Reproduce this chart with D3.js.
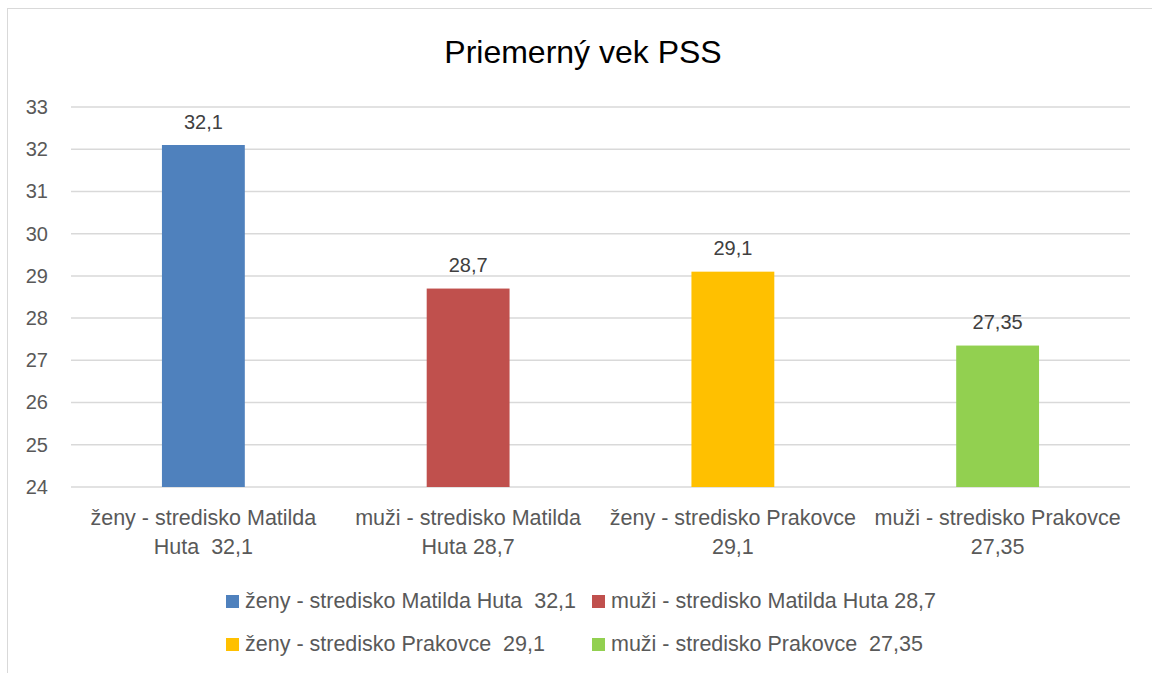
<!DOCTYPE html>
<html>
<head>
<meta charset="utf-8">
<script src="https://cdn.jsdelivr.net/npm/d3@7"></script>
<style>
  body { margin: 0; background: #fff; }
  text { font-family: "Liberation Sans", Arial, sans-serif; white-space: pre; }
</style>
</head>
<body>
<div id="chart"></div>
<script>
// data
var categories = ["ženy - stredisko Matilda Huta  32,1", "muži - stredisko Matilda Huta 28,7",
                  "ženy - stredisko Prakovce  29,1", "muži - stredisko Prakovce  27,35"]
var axisLines = [["ženy - stredisko Matilda", "Huta  32,1"], ["muži - stredisko Matilda", "Huta 28,7"],
                 ["ženy - stredisko Prakovce", "29,1"], ["muži - stredisko Prakovce", "27,35"]]
var values = [32.1, 28.7, 29.1, 27.35]
var valueLabels = ["32,1", "28,7", "29,1", "27,35"]
var colors = ["#4F81BD", "#C0504D", "#FFC000", "#92D050"]
var yTicks = [24, 25, 26, 27, 28, 29, 30, 31, 32, 33]

var W = 1152, H = 673
var margin = {top: 107, left: 71, right: 22, bottom: 186}
var width = W - margin.left - margin.right,
    height = H - margin.top - margin.bottom

var svg = d3.select("#chart").append("svg")
    .attr("width", W).attr("height", H)

// chart area border
svg.append("rect")
    .attr("x", 7.5).attr("y", 8.5)
    .attr("width", W + 10).attr("height", H + 10)
    .attr("fill", "none").attr("stroke", "#d9d9d9").attr("stroke-width", 1)

svg.append("text")
    .attr("x", 583).attr("y", 63)
    .attr("text-anchor", "middle")
    .attr("font-size", "32px")
    .attr("fill", "#000")
    .text("Priemerný vek PSS")

var g = svg.append("g")
    .attr("transform", "translate(" + margin.left + "," + margin.top + ")")

var x = d3.scaleBand().domain(categories).range([0, width]).padding(0)
var y = d3.scaleLinear().domain([24, 33]).range([height, 0])
var barW = x.bandwidth() * 0.313

// gridlines
g.selectAll(".grid")
    .data(yTicks)
  .enter().append("line")
    .attr("x1", 0).attr("x2", width)
    .attr("y1", d => y(d)).attr("y2", d => y(d))
    .attr("stroke", "#d9d9d9").attr("stroke-width", 1.5)

// y axis labels
var yAxis = g.append("g")
    .call(d3.axisLeft(y).tickValues(yTicks).tickSize(0).tickPadding(23))
yAxis.select(".domain").remove()
yAxis.selectAll("text")
    .attr("font-family", "'Liberation Sans', Arial, sans-serif")
    .attr("font-size", "20px")
    .attr("fill", "#595959")

// bars
g.selectAll(".bar")
    .data(values)
  .enter().append("rect")
    .attr("x", (d, i) => x(categories[i]) + x.bandwidth() / 2 - barW / 2)
    .attr("width", barW)
    .attr("y", d => y(d))
    .attr("height", d => height - y(d))
    .attr("fill", (d, i) => colors[i])

// value labels
g.selectAll(".val")
    .data(values)
  .enter().append("text")
    .attr("x", (d, i) => x(categories[i]) + x.bandwidth() / 2)
    .attr("y", d => y(d) - 16.5)
    .attr("text-anchor", "middle")
    .attr("font-size", "20px")
    .attr("fill", "#404040")
    .text((d, i) => valueLabels[i])

// x axis labels (two lines)
var xl = g.selectAll(".xl")
    .data(categories)
  .enter().append("text")
    .attr("x", d => x(d) + x.bandwidth() / 2)
    .attr("y", height + 38)
    .attr("text-anchor", "middle")
    .attr("font-size", "21.5px")
    .attr("fill", "#595959")
xl.selectAll("tspan")
    .data((d, i) => axisLines[i])
  .enter().append("tspan")
    .attr("x", function() { return this.parentNode.getAttribute("x") })
    .attr("dy", (d, j) => j ? 29 : 0)
    .text(d => d)

// legend
var legX = [226, 592], legY = [608, 651]
var leg = svg.selectAll(".leg")
    .data(categories)
  .enter().append("g")
    .attr("transform", (d, i) => "translate(" + legX[i % 2] + "," + legY[Math.floor(i / 2)] + ")")
leg.append("rect")
    .attr("x", 0).attr("y", -13)
    .attr("width", 13).attr("height", 13)
    .attr("fill", (d, i) => colors[i])
leg.append("text")
    .attr("x", 19).attr("y", 0)
    .attr("font-size", "21.5px")
    .attr("fill", "#595959")
    .text(d => d)
</script>
</body>
</html>
